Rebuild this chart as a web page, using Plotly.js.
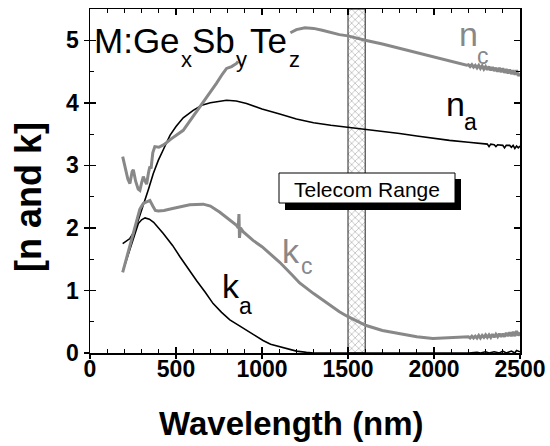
<!DOCTYPE html>
<html>
<head>
<meta charset="utf-8">
<script src="https://cdn.plot.ly/plotly-3.0.1.min.js"></script>
<style>html,body{margin:0;padding:0;background:#fff;}#chart{width:550px;height:446px;}</style>
</head>
<body>
<div id="chart"></div>
<script>
// ---- data ----
const naX = [190,232,261,290,310,340,368,397,426,465,500,542,600,650,700,794,850,910,1000,1045,1103,1200,1300,1400,1500,1600,1700,1800,1900,2000,2090,2200,2283,2300,2310,2320,2330,2350,2360,2370,2400,2410,2420,2440,2450,2460,2470,2480,2490,2500];
const naY = [1.75,1.83,1.96,2.20,2.34,2.62,2.87,3.08,3.25,3.48,3.62,3.76,3.88,3.96,4.00,4.04,4.03,3.99,3.90,3.86,3.82,3.74,3.68,3.64,3.61,3.58,3.54,3.51,3.47,3.43,3.40,3.37,3.35,3.34,3.34,3.30,3.34,3.33,3.30,3.33,3.32,3.28,3.32,3.32,3.29,3.32,3.27,3.31,3.28,3.31];

const kaX = [190,220,250,281,300,320,345,370,426,480,523,570,619,670,716,765,813,860,910,960,1006,1050,1103,1150,1200,1258,1300,2200,2250,2270,2300,2320,2350,2380,2400,2420,2450,2470,2480,2500];
const kaY = [1.30,1.55,1.80,2.07,2.13,2.16,2.14,2.09,1.91,1.72,1.54,1.35,1.16,0.97,0.79,0.65,0.53,0.45,0.36,0.27,0.20,0.14,0.10,0.06,0.03,0.01,0.0,0.0,0.01,0.0,0.02,0.0,0.02,0.0,0.03,0.0,0.03,0.0,0.04,0.02];

const ncX = [190,205,220,232,245,252,265,280,290,300,310,320,329,340,348,355,365,377,400,430,470,542,600,639,690,735,770,794,823,852,861,
             null,
             1165,1200,1250,1300,1350,1400,1450,1500,1550,1600,1700,1800,1900,1993,2100,2190,2200,2210,2220,2230,2240,2250,2260,2270,2280,2290,2300,2310,2320,2330,2340,2350,2360,2370,2380,2390,2400,2410,2420,2430,2440,2450,2460,2470,2480,2490,2500];
const ncY = [3.14,2.95,2.78,2.71,2.90,2.93,2.75,2.62,2.60,2.72,2.82,2.75,2.70,2.88,2.98,2.95,3.20,3.30,3.29,3.33,3.42,3.56,3.78,3.94,4.13,4.31,4.46,4.55,4.58,4.63,4.66,
             null,
             5.12,5.17,5.20,5.19,5.16,5.12,5.09,5.07,5.03,5.00,4.94,4.87,4.80,4.74,4.67,4.60,4.61,4.58,4.61,4.57,4.60,4.56,4.60,4.55,4.59,4.54,4.58,4.53,4.58,4.52,4.57,4.51,4.56,4.50,4.56,4.49,4.55,4.48,4.54,4.47,4.53,4.46,4.52,4.45,4.52,4.43,4.47];

const kcX = [190,210,230,250,270,290,310,330,348,365,380,397,430,480,523,580,658,700,755,800,852,862,866,869,875,890,948,1000,1045,1103,1171,1219,1300,1394,1450,1500,1550,1606,1700,1800,1900,1993,2100,2190,2200,2210,2220,2230,2240,2250,2260,2270,2280,2290,2300,2310,2320,2330,2340,2350,2360,2370,2380,2390,2400,2410,2420,2430,2440,2450,2460,2470,2480,2490,2500];
const kcY = [1.29,1.50,1.70,1.90,2.10,2.30,2.39,2.42,2.44,2.35,2.28,2.27,2.28,2.31,2.34,2.37,2.38,2.35,2.25,2.15,2.04,2.00,2.22,1.84,2.00,1.94,1.80,1.70,1.59,1.45,1.26,1.12,0.95,0.76,0.66,0.58,0.51,0.44,0.36,0.31,0.26,0.23,0.24,0.25,0.26,0.24,0.27,0.24,0.27,0.24,0.28,0.24,0.28,0.25,0.29,0.25,0.29,0.25,0.30,0.25,0.30,0.26,0.31,0.26,0.31,0.26,0.32,0.27,0.33,0.27,0.34,0.27,0.35,0.28,0.33];

const bandX = [1500, 1600];          // telecom range (nm)
const xRange = [0, 2500];
const yRange = [0, 5.5];

// ---- layout helpers (pixel -> paper) ----
const L = 90, R = 30, T = 9, B = 93, W = 550, H = 446;
const PW = W - L - R, PH = H - T - B;
const px = v => (v - L) / PW;
const py = v => (H - B - v) / PH;

const FONT = 'Liberation Sans, Arial, sans-serif';
const GRAY = '#888888';

const traces = [
  { // hatched telecom band (main subplot, under curves)
    x: [bandX[0], bandX[1], bandX[1], bandX[0], bandX[0]],
    y: [yRange[0], yRange[0], yRange[1], yRange[1], yRange[0]],
    xaxis: 'x', yaxis: 'y', mode: 'lines', fill: 'toself',
    fillcolor: 'rgba(255,255,255,1)',
    fillpattern: {shape: 'x', fgcolor: '#999999', bgcolor: '#ffffff', size: 5, solidity: 0.2},
    line: {color: '#222', width: 1}, hoverinfo: 'skip', showlegend: false
  },
  {x: naX, y: naY, xaxis: 'x2', yaxis: 'y2', mode: 'lines', line: {color: '#000', width: 1.6}, showlegend: false},
  {x: kaX, y: kaY, xaxis: 'x2', yaxis: 'y2', mode: 'lines', line: {color: '#000', width: 1.6}, showlegend: false},
  {x: ncX, y: ncY, xaxis: 'x2', yaxis: 'y2', mode: 'lines', connectgaps: false, line: {color: GRAY, width: 3}, showlegend: false},
  {x: kcX, y: kcY, xaxis: 'x2', yaxis: 'y2', mode: 'lines', line: {color: GRAY, width: 3}, showlegend: false}
];

const tickFont = {family: FONT, size: 23, color: '#000', weight: 'bold'};

const layout = {
  width: W, height: H,
  margin: {l: L, r: R, t: T, b: B, pad: 0},
  paper_bgcolor: '#fff', plot_bgcolor: 'rgba(0,0,0,0)',
  showlegend: false,
  xaxis: {
    range: xRange, tickmode: 'linear', tick0: 0, dtick: 500,
    ticks: 'inside', ticklen: 6, tickwidth: 1.5, tickcolor: '#000',
    minor: {dtick: 100, ticks: 'inside', ticklen: 4, tickwidth: 1, tickcolor: '#000'},
    ticklabelstandoff: -5, layer: 'above traces',
    showline: true, linecolor: '#000', linewidth: 1.5, mirror: 'ticks',
    showgrid: false, zeroline: false, tickfont: tickFont, fixedrange: true
  },
  yaxis: {
    range: yRange, tickmode: 'linear', tick0: 0, dtick: 1,
    ticks: 'inside', ticklen: 6, tickwidth: 1.5, tickcolor: '#000',
    minor: {dtick: 0.5, ticks: 'inside', ticklen: 4, tickwidth: 1, tickcolor: '#000'},
    ticklabelstandoff: 5, layer: 'above traces',
    showline: true, linecolor: '#000', linewidth: 1.5, mirror: 'ticks',
    showgrid: false, zeroline: false, tickfont: tickFont, fixedrange: true
  },
  xaxis2: {
    overlaying: 'x', anchor: 'y2', range: xRange, tickmode: 'linear', tick0: 0, dtick: 500,
    ticks: 'outside', ticklen: 5, tickwidth: 1.5, tickcolor: '#000',
    showticklabels: false, showline: false,
    showgrid: false, zeroline: false, fixedrange: true
  },
  yaxis2: {
    overlaying: 'y', anchor: 'x2', range: yRange, tickmode: 'linear', tick0: 0, dtick: 1,
    ticks: 'outside', ticklen: 5, tickwidth: 1.5, tickcolor: '#000',
    showticklabels: false, showline: false,
    showgrid: false, zeroline: false, fixedrange: true
  },
  shapes: [
    {type: 'rect', xref: 'paper', yref: 'paper', layer: 'above',
     x0: px(285), x1: px(461), y0: py(210), y1: py(179),
     fillcolor: '#000', line: {width: 0}},
    {type: 'rect', xref: 'paper', yref: 'paper', layer: 'above',
     x0: px(279), x1: px(455), y0: py(203), y1: py(173),
     fillcolor: '#fff', line: {color: '#000', width: 1}}
  ],
  annotations: []
};

// label helper: main text + separately placed subscript
function lab(text, left, top, size, color) {
  layout.annotations.push({text: text, xref: 'paper', yref: 'paper', x: px(left), y: py(top),
    xanchor: 'left', yanchor: 'top', showarrow: false, borderpad: 0,
    font: {family: FONT, size: size, color: color}});
}
lab('M:Ge', 93, 20, 35, '#000');
lab('x', 180, 46, 22, '#000');
lab('Sb', 191, 20, 35, '#000');
lab('y', 235, 46, 22, '#000');
lab('Te', 249, 20, 35, '#000');
lab('z', 288, 46, 22, '#000');

lab('n', 458, 14, 34, GRAY);
lab('c', 476, 42, 23, GRAY);
lab('n', 445, 84, 34, '#000');
lab('a', 463, 108, 23, '#000');
lab('k', 281, 231, 34, GRAY);
lab('c', 300, 252, 23, GRAY);
lab('k', 221, 266, 34, '#000');
lab('a', 238, 292, 23, '#000');

layout.annotations.push(
  {text: 'Telecom Range', xref: 'paper', yref: 'paper', x: px(367), y: py(189),
   xanchor: 'center', yanchor: 'middle', showarrow: false, borderpad: 0,
   font: {family: FONT, size: 21, color: '#000'}},
  {text: 'Wavelength (nm)', xref: 'paper', yref: 'paper', x: px(291), y: py(404),
   xanchor: 'center', yanchor: 'top', showarrow: false, borderpad: 0,
   font: {family: FONT, size: 33, color: '#000', weight: 'bold'}},
  {text: '[n and k]', xref: 'paper', yref: 'paper', x: px(28), y: py(197),
   xanchor: 'center', yanchor: 'middle', textangle: -90, showarrow: false, borderpad: 0,
   font: {family: FONT, size: 36, color: '#000', weight: 'bold'}}
);

Plotly.newPlot('chart', traces, layout, {displayModeBar: false, staticPlot: true});
</script>
</body>
</html>
